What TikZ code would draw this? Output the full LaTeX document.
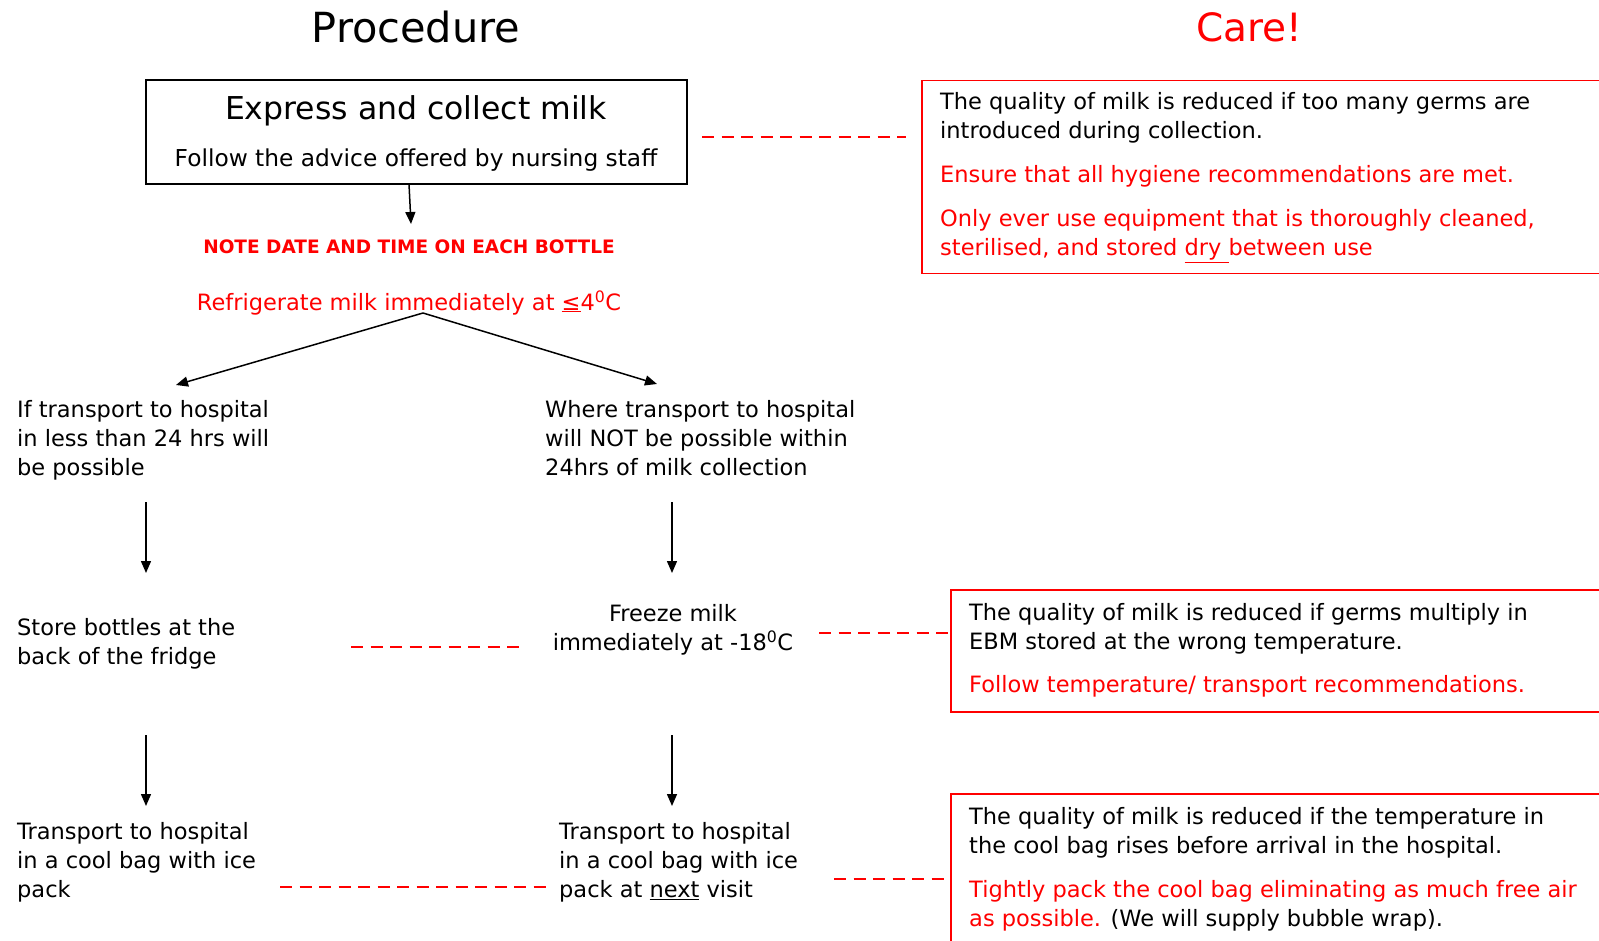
\documentclass[tikz,border=0pt]{standalone}
\usepackage{fontspec}
\setmainfont{DejaVu Sans}
\usetikzlibrary{arrows.meta}
\definecolor{cred}{RGB}{255,0,0}
\tikzset{
  body/.style={font=\fontsize{22.5}{29}\selectfont, inner sep=0pt, align=left, anchor=base west},
  bodyc/.style={font=\fontsize{22.5}{29}\selectfont, inner sep=0pt, align=center, anchor=base},
  arr/.style={line width=1.5pt, -{Triangle[length=12pt,width=10pt]}},
  dashline/.style={cred, line width=1.5pt, dash pattern=on 12pt off 7.5pt},
  carebox/.style={draw=cred, line width=1.5pt, anchor=north west, inner sep=0pt},
}
\begin{document}
\begin{tikzpicture}[x=1pt,y=-1pt]
\useasboundingbox (0,0) rectangle (1599,941);
\clip (0,0) rectangle (1599,941);

% titles
\node[font=\fontsize{41.5}{48}\selectfont, inner sep=0pt] (proc) at (416,27) {Procedure};
\node[font=\fontsize{39}{48}\selectfont, text=cred, inner sep=0pt] (care) at (1249,27) {Care!};

% box 1
\node[draw, line width=1.5pt, minimum width=541pt, minimum height=104pt, inner sep=0pt] (b1) at (416.5,132) {};
\node[font=\fontsize{31.5}{36}\selectfont, inner sep=0pt] (expr) at (416,111) {Express and collect milk};
\node[font=\fontsize{23.3}{29}\selectfont, inner sep=0pt] (follow) at (416,160) {Follow the advice offered by nursing staff};

\coordinate (a1s) at (409,184);
\coordinate (a1e) at (411,224);
\draw[arr] (a1s) -- (a1e);

\node[font=\fontsize{18.5}{22}\selectfont\bfseries, text=cred, inner sep=0pt] (note) at (409,247) {NOTE DATE AND TIME ON EACH BOTTLE};
\node[font=\fontsize{22.5}{29}\selectfont, text=cred, inner sep=0pt] (refr) at (409,303) {Refrigerate milk immediately at \underline{≤}4\textsuperscript{0}C};

\coordinate (fork) at (423,313);
\coordinate (fl) at (176,385);
\coordinate (fr) at (657,384);
\draw[arr] (fork) -- (fl);
\draw[arr] (fork) -- (fr);

% row 1
\node[body] (l1) at (17,475) {If transport to hospital\\in less than 24 hrs will\\be possible};
\node[body] (r1) at (545,475) {Where transport to hospital\\will NOT be possible within\\24hrs of milk collection};

\coordinate (al1s) at (146,502); \coordinate (al1e) at (146,573);
\coordinate (ar1s) at (672,502); \coordinate (ar1e) at (672,573);
\draw[arr] (al1s) -- (al1e);
\draw[arr] (ar1s) -- (ar1e);

% row 2
\node[body] (l2) at (17,664) {Store bottles at the\\back of the fridge};
\node[bodyc] (r2) at (673,650) {Freeze milk\\immediately at -18\textsuperscript{0}C};

\coordinate (d2a) at (351,647); \coordinate (d2b) at (526,647);
\draw[dashline] (d2a) -- (d2b);
\coordinate (d3a) at (819,633); \coordinate (d3b) at (950,633);
\draw[dashline] (d3a) -- (d3b);

\coordinate (al2s) at (146,735); \coordinate (al2e) at (146,806);
\coordinate (ar2s) at (672,735); \coordinate (ar2e) at (672,806);
\draw[arr] (al2s) -- (al2e);
\draw[arr] (ar2s) -- (ar2e);

% row 3
\node[body] (l3) at (17,897) {Transport to hospital\\in a cool bag with ice\\pack};
\node[body] (r3) at (559,897) {Transport to hospital\\in a cool bag with ice\\pack at \underline{next} visit};

\coordinate (d4a) at (280,887); \coordinate (d4b) at (548,887);
\draw[dashline] (d4a) -- (d4b);
\coordinate (d5a) at (834,879); \coordinate (d5b) at (950,879);
\draw[dashline] (d5a) -- (d5b);

% care box 1
\coordinate (d1a) at (702,137); \coordinate (d1b) at (906,137);
\draw[dashline] (d1a) -- (d1b);
\node[carebox, minimum width=700pt, minimum height=193pt] (c1) at (921,80) {};
\node[body] (c1t1) at (940,139) {The quality of milk is reduced if too many germs are\\introduced during collection.};
\node[body, text=cred] (c1t2) at (940,183) {Ensure that all hygiene recommendations are met.};
\node[body, text=cred] (c1t3) at (940,256) {Only ever use equipment that is thoroughly cleaned,\\sterilised, and stored \underline{dry }between use};

% care box 2
\node[carebox, minimum width=700pt, minimum height=122pt] (c2) at (950,589) {};
\node[body] (c2t1) at (969,649) {The quality of milk is reduced if germs multiply in\\EBM stored at the wrong temperature.};
\node[body, text=cred] (c2t2) at (969,692) {Follow temperature/ transport recommendations.};

% care box 3
\node[carebox, minimum width=700pt, minimum height=200pt] (c3) at (950,793) {};
\node[body] (c3t1) at (969,853) {The quality of milk is reduced if the temperature in\\the cool bag rises before arrival in the hospital.};
\node[body] (c3t2) at (969,926) {\textcolor{cred}{Tightly pack the cool bag eliminating as much free air}\\\textcolor{cred}{as possible.} (We will supply bubble wrap).};
\end{tikzpicture}
\end{document}
